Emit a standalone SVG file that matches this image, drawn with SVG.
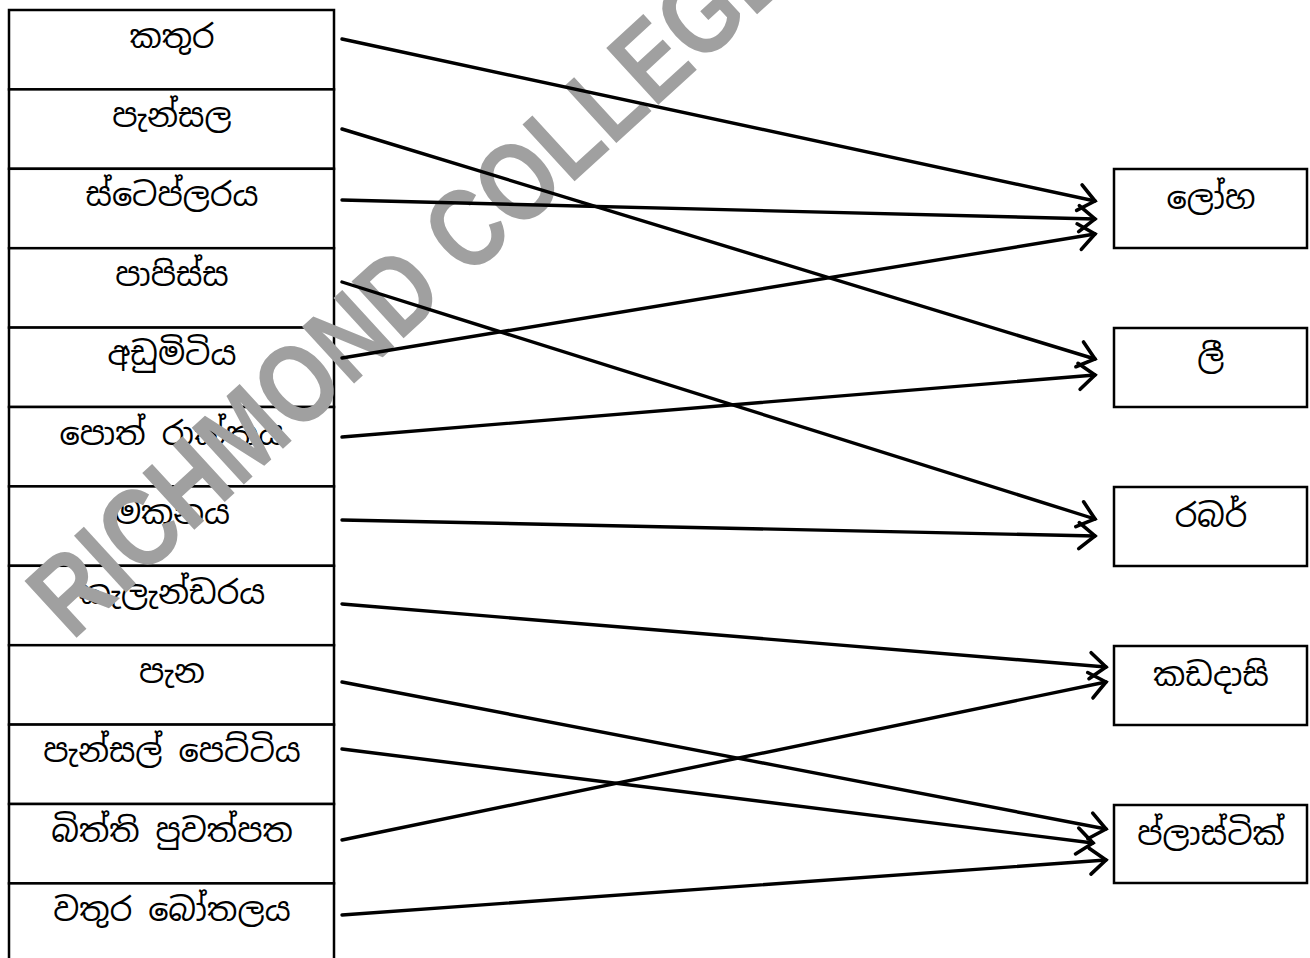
<svg xmlns="http://www.w3.org/2000/svg" width="1310" height="958" viewBox="0 0 1310 958">
<style>
.cell{fill:#fff;stroke:#000;stroke-width:2.5}
.t{font-family:"Iskoola Pota","Noto Sans Sinhala","Noto Serif Sinhala","Nirmala UI",sans-serif;font-size:32px;fill:#000;text-anchor:middle}
.c{fill:none;stroke:#000;stroke-width:3.4;stroke-linecap:round}
.wm{font-family:"Liberation Sans",Arial,sans-serif;font-size:112px;font-weight:bold;fill:#a0a0a0}
</style>
<defs>
<marker id="ah" markerUnits="userSpaceOnUse" markerWidth="40" markerHeight="40" refX="20" refY="20" orient="auto" overflow="visible">
<path d="M4,7 L20,20 L4,33" fill="none" stroke="#000" stroke-width="3.6" stroke-linecap="round" stroke-linejoin="miter"/>
</marker>
</defs>
<rect width="1310" height="958" fill="#fff"/>
<g id="left-items">
<g id="n1"><rect class="cell" x="9" y="10" width="325" height="79.4"/><text class="t" x="172" y="48">කතුර</text></g>
<g id="n2"><rect class="cell" x="9" y="89.4" width="325" height="79.4"/><text class="t" x="172" y="127">පැන්සල</text></g>
<g id="n3"><rect class="cell" x="9" y="168.8" width="325" height="79.4"/><text class="t" x="172" y="206">ස්ටෙප්ලරය</text></g>
<g id="n4"><rect class="cell" x="9" y="248.2" width="325" height="79.4"/><text class="t" x="172" y="286">පාපිස්ස</text></g>
<g id="n5"><rect class="cell" x="9" y="327.6" width="325" height="79.4"/><text class="t" x="172" y="365">අඩුමිටිය</text></g>
<g id="n6"><rect class="cell" x="9" y="407" width="325" height="79.4"/><text class="t" x="172" y="445">පොත් රාක්කය</text></g>
<g id="n7"><rect class="cell" x="9" y="486.4" width="325" height="79.4"/><text class="t" x="172" y="524">මකනය</text></g>
<g id="n8"><rect class="cell" x="9" y="565.8" width="325" height="79.4"/><text class="t" x="172" y="604">කැලැන්ඩරය</text></g>
<g id="n9"><rect class="cell" x="9" y="645.2" width="325" height="79.4"/><text class="t" x="172" y="683">පැන</text></g>
<g id="n10"><rect class="cell" x="9" y="724.6" width="325" height="79.4"/><text class="t" x="172" y="762">පැන්සල් පෙට්ටිය</text></g>
<g id="n11"><rect class="cell" x="9" y="804" width="325" height="79.4"/><text class="t" x="172" y="842">බිත්ති පුවත්පත</text></g>
<g id="n12"><rect class="cell" x="9" y="883.4" width="325" height="79.4"/><text class="t" x="172" y="921">වතුර බෝතලය</text></g>
</g>
<g id="right-items">
<g id="m1"><rect class="cell" x="1114" y="169" width="193" height="79"/><text class="t" x="1211" y="209">ලෝහ</text></g>
<g id="m2"><rect class="cell" x="1114" y="328" width="193" height="79"/><text class="t" x="1211" y="368">ලී</text></g>
<g id="m3"><rect class="cell" x="1114" y="487" width="193" height="79"/><text class="t" x="1211" y="527">රබර්</text></g>
<g id="m4"><rect class="cell" x="1114" y="646" width="193" height="79"/><text class="t" x="1211" y="686">කඩදාසි</text></g>
<g id="m5"><rect class="cell" x="1114" y="805" width="193" height="78"/><text class="t" x="1211" y="845">ප්ලාස්ටික්</text></g>
</g>
<g id="watermark"><text class="wm" transform="translate(72,642) rotate(-42.5)" x="0" y="0" textLength="985" lengthAdjust="spacingAndGlyphs">RICHMOND COLLEGE</text></g>
<g id="connectors">
<line class="c" x1="342" y1="39" x2="1095" y2="201" marker-end="url(#ah)"/>
<line class="c" x1="342" y1="129" x2="1095" y2="359" marker-end="url(#ah)"/>
<line class="c" x1="342" y1="200" x2="1095" y2="219" marker-end="url(#ah)"/>
<line class="c" x1="342" y1="282" x2="1095" y2="519" marker-end="url(#ah)"/>
<line class="c" x1="342" y1="358" x2="1095" y2="234" marker-end="url(#ah)"/>
<line class="c" x1="342" y1="437" x2="1095" y2="375" marker-end="url(#ah)"/>
<line class="c" x1="342" y1="520" x2="1095" y2="536" marker-end="url(#ah)"/>
<line class="c" x1="342" y1="604" x2="1106" y2="667" marker-end="url(#ah)"/>
<line class="c" x1="342" y1="682" x2="1106" y2="829" marker-end="url(#ah)"/>
<line class="c" x1="342" y1="749" x2="1093" y2="843" marker-end="url(#ah)"/>
<line class="c" x1="342" y1="840" x2="1106" y2="682" marker-end="url(#ah)"/>
<line class="c" x1="342" y1="915" x2="1106" y2="860" marker-end="url(#ah)"/>
</g>
</svg>
